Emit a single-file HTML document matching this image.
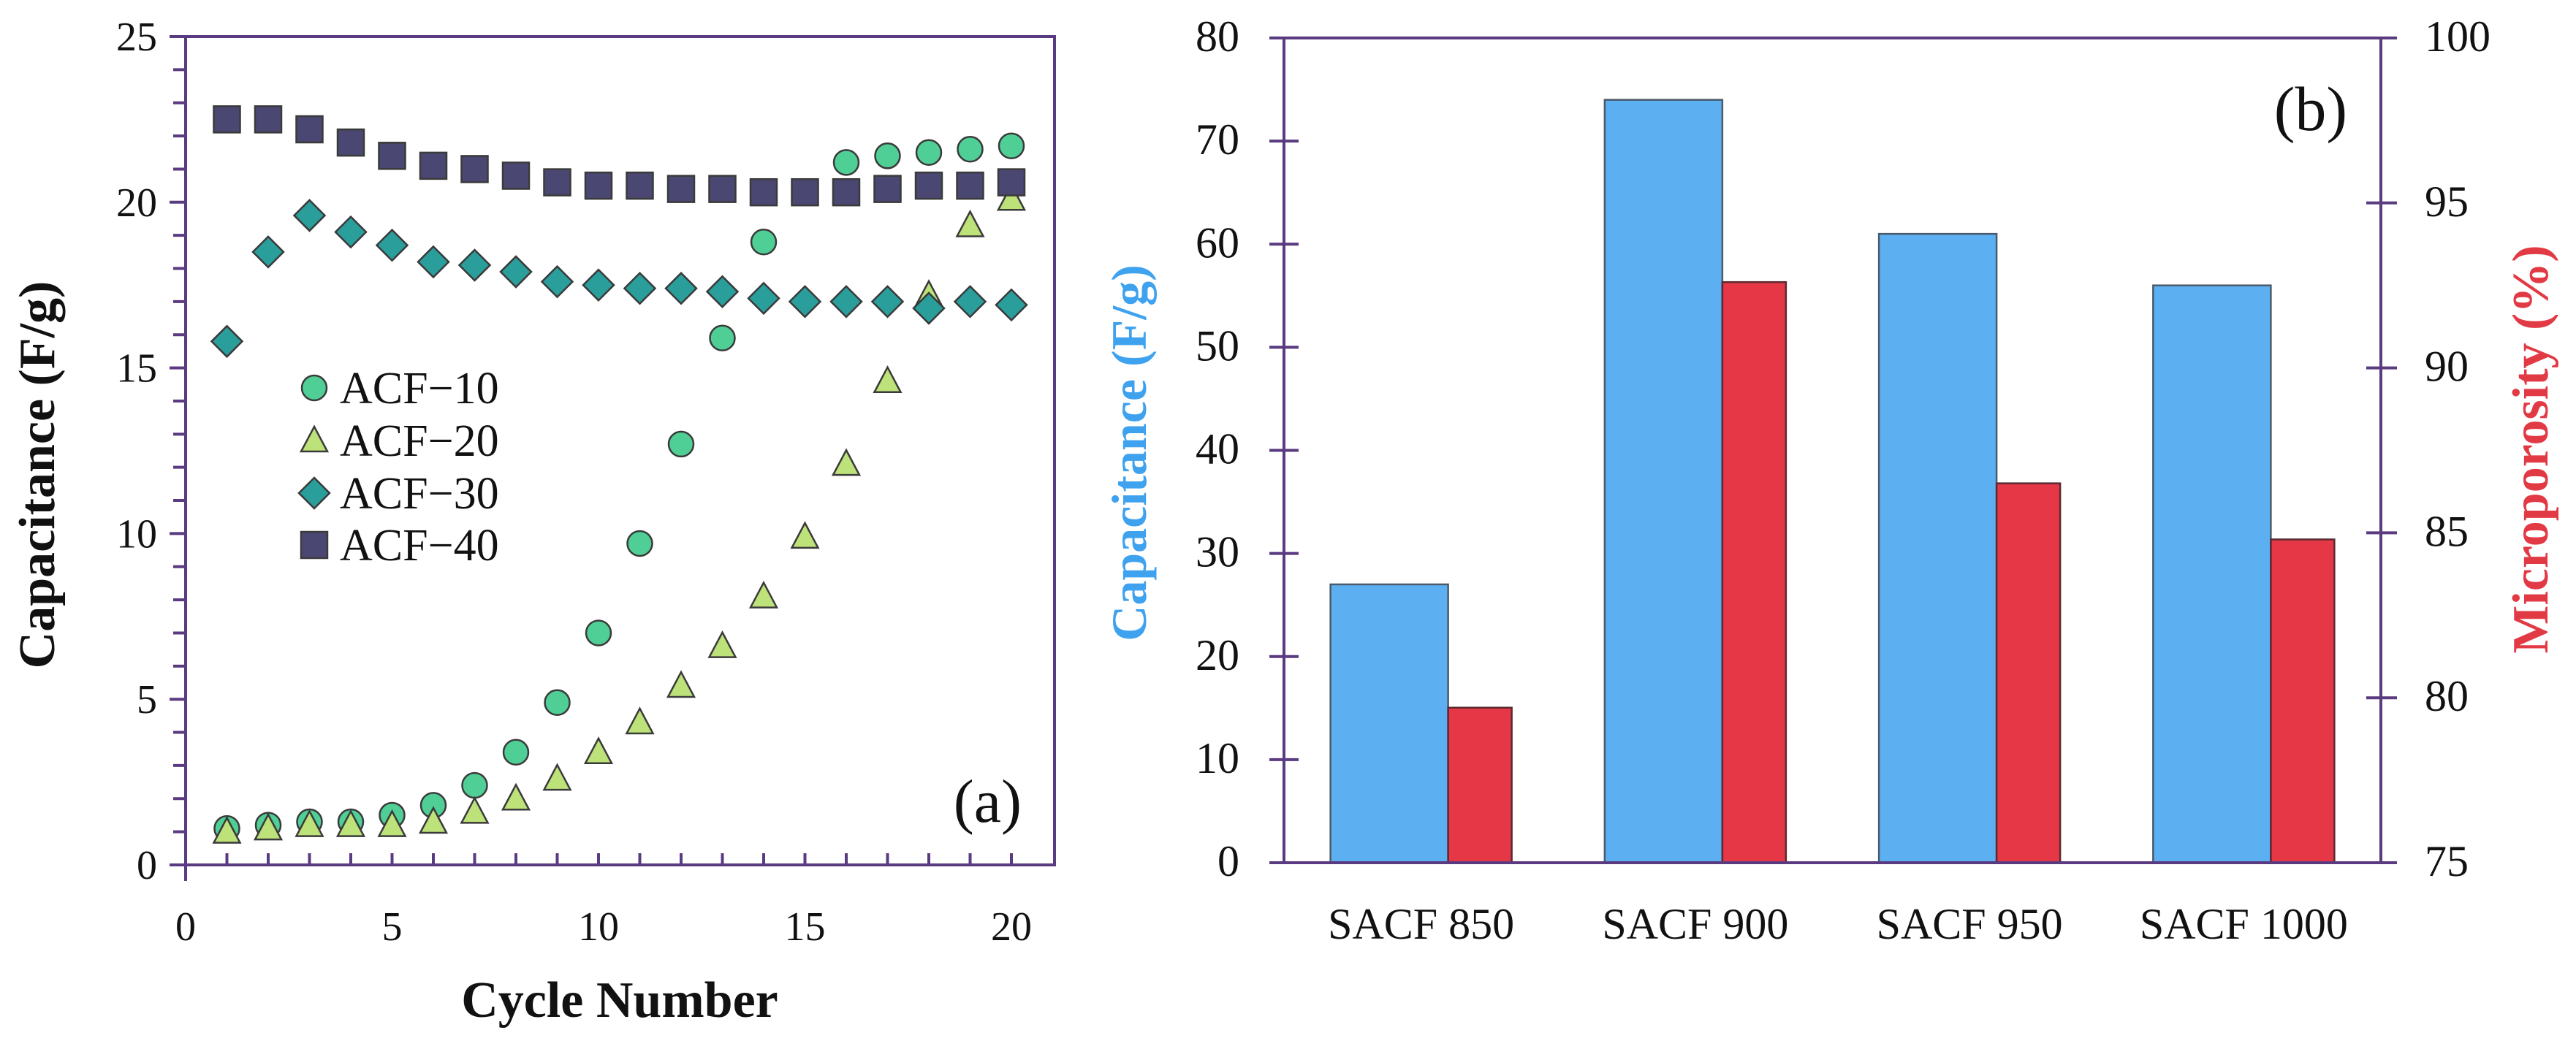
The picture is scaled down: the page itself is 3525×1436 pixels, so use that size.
<!DOCTYPE html>
<html><head><meta charset="utf-8">
<style>
html,body{margin:0;padding:0;background:#fff;}
svg{display:block;}
text{font-family:"Liberation Serif",serif;}
</style></head>
<body>
<svg id="fig" width="3525" height="1436" viewBox="0 0 3525 1436" xmlns="http://www.w3.org/2000/svg">
  <g id="chartA"></g>
  <g id="chartB"></g>
</svg>
<script>
// ---------- Chart (a) data ----------
const cycles = [1,2,3,4,5,6,7,8,9,10,11,12,13,14,15,16,17,18,19,20];
const acf10 = [1.1,1.2,1.3,1.3,1.5,1.8,2.4,3.4,4.9,7.0,9.7,12.7,15.9,18.8,20.3,21.2,21.4,21.5,21.6,21.7];
const acf20 = [1.0,1.1,1.2,1.2,1.2,1.3,1.6,2.0,2.6,3.4,4.3,5.4,6.6,8.1,9.9,12.1,14.6,17.2,19.3,20.1];
const acf30 = [15.8,18.5,19.6,19.1,18.7,18.2,18.1,17.9,17.6,17.5,17.4,17.4,17.3,17.1,17.0,17.0,17.0,16.8,17.0,16.9];
const acf40 = [22.5,22.5,22.2,21.8,21.4,21.1,21.0,20.8,20.6,20.5,20.5,20.4,20.4,20.3,20.3,20.3,20.4,20.5,20.5,20.6];
const xTicksA = [0,5,10,15,20];
const yTicksA = [0,5,10,15,20,25];
const legendLabels = ["ACF\u221210","ACF\u221220","ACF\u221230","ACF\u221240"];

// ---------- Chart (b) data ----------
const samples = ["SACF 850","SACF 900","SACF 950","SACF 1000"];
const capacitance = [27,74,61,56];
const microporosity = [79.7,92.6,86.5,84.8];
const yTicksLeftB = [0,10,20,30,40,50,60,70,80];
const yTicksRightB = [75,80,85,90,95,100];

const NS = "http://www.w3.org/2000/svg";
const AX = "#5a3a80";
function mk(parent, tag, attrs, txt){
  const e = document.createElementNS(NS, tag);
  for (const k in attrs) e.setAttribute(k, attrs[k]);
  if (txt !== undefined) e.textContent = txt;
  parent.appendChild(e);
  return e;
}

// ===== Chart A =====
const A = document.getElementById("chartA");
const aL=254, aR=1443, aT=50, aB=1184;
const ax = v => aL + v*56.5;
const ay = v => aB - v*(aB-aT)/25;

for (let i=0;i<=25;i++){
  const major = i%5===0;
  const t = mk(A,"line",{x1:aL-(major?22:17),x2:aL,y1:ay(i),y2:ay(i),stroke:AX,"stroke-width":4});
  
  
}
for (let i=0;i<=20;i++){
  const t = mk(A,"line",{x1:ax(i),x2:ax(i),y1:aB-16,y2:aB+(i===0?22:0),stroke:AX,"stroke-width":4});
  
  
}
const frameA = mk(A,"rect",{x:aL,y:aT,width:aR-aL,height:aB-aT,fill:"none",stroke:AX,"stroke-width":4});



yTicksA.forEach(v=>{
  const t = mk(A,"text",{x:215,y:ay(v)+19,"font-size":56,"text-anchor":"end",fill:"#111"},String(v));
  
  
});
xTicksA.forEach(v=>{
  const t = mk(A,"text",{x:ax(v),y:1287,"font-size":56,"text-anchor":"middle",fill:"#111"},String(v));
  
  
});
const yt = mk(A,"text",{x:0,y:0,"font-size":70,"font-weight":"bold","text-anchor":"middle",fill:"#111",transform:"translate(74,650) rotate(-90)"},"Capacitance (F/g)");


const xt = mk(A,"text",{x:848,y:1392,"font-size":70,"font-weight":"bold","text-anchor":"middle",fill:"#111"},"Cycle Number");


const la = mk(A,"text",{x:1398,y:1125,"font-size":84,"text-anchor":"end",fill:"#111"},"(a)");



const STK = "#3a3a3a";
function marker(g, type, cx, cy){
  let e;
  if (type===0) e = mk(g,"circle",{cx:cx,cy:cy,r:17,fill:"#4fcf95",stroke:STK,"stroke-width":2.5});
  else if (type===1) e = mk(g,"polygon",{points:`${cx},${cy-19} ${cx+18},${cy+15} ${cx-18},${cy+15}`,fill:"#bde27a",stroke:STK,"stroke-width":2.5});
  else if (type===2) e = mk(g,"polygon",{points:`${cx},${cy-21} ${cx+21},${cy} ${cx},${cy+21} ${cx-21},${cy}`,fill:"#2a9e9b",stroke:STK,"stroke-width":2.5});
  else e = mk(g,"rect",{x:cx-18,y:cy-18,width:36,height:36,fill:"#4a4872",stroke:STK,"stroke-width":2.5});
  return e;
}
const seriesA = [acf10, acf20, acf30, acf40];
const seriesNames = ["acf-10","acf-20","acf-30","acf-40"];
seriesA.forEach((s,si)=>{
  const g = mk(A,"g",{});
  
  
  s.forEach((v,i)=>{
    const m = marker(g, si, ax(cycles[i]), ay(v));
    
    
  });
});
const legY = [531,603,675,746];
legendLabels.forEach((lab,i)=>{
  const g = mk(A,"g",{});
  
  
  marker(g, i, 430, legY[i]);
  mk(g,"text",{x:465,y:legY[i]+21,"font-size":62,fill:"#111"},lab);
});

// ===== Chart B =====
const B = document.getElementById("chartB");
const bL=1757, bR=3258, bT=52, bB=1181;
const byL = v => bB - v*(bB-bT)/80;
const byR = v => bB - (v-75)*(bB-bT)/25;
const gw = (bR-bL)/samples.length;
const bx = i => bL + gw*(i+0.5);

samples.forEach((s,i)=>{
  const c = bx(i);
  const b1 = mk(B,"rect",{x:c-124,y:byL(capacitance[i]),width:161,height:bB-byL(capacitance[i]),fill:"#5cb0f2",stroke:"#4a5a6a","stroke-width":2.5});
  
  
  const b2 = mk(B,"rect",{x:c+37,y:byR(microporosity[i]),width:87,height:bB-byR(microporosity[i]),fill:"#e53746",stroke:"#5a2a30","stroke-width":2.5});
  
  
  const t = mk(B,"text",{x:c,y:1285,"font-size":60,"text-anchor":"middle",fill:"#111"},s);
  
  
});
const frameB = mk(B,"path",{d:`M${bL},${bB} L${bL},${bT} L${bR},${bT} L${bR},${bB} M${bL-20},${bB} L${bR+22},${bB}`,fill:"none",stroke:AX,"stroke-width":4});


yTicksLeftB.forEach(v=>{
  const t = mk(B,"line",{x1:bL-20,x2:bL+20,y1:byL(v),y2:byL(v),stroke:AX,"stroke-width":4});
  
  
  const l = mk(B,"text",{x:1696,y:byL(v)+18,"font-size":60,"text-anchor":"end",fill:"#111"},String(v));
  
  
});
yTicksRightB.forEach(v=>{
  const t = mk(B,"line",{x1:bR-20,x2:bR+22,y1:byR(v),y2:byR(v),stroke:AX,"stroke-width":4});
  
  
  const l = mk(B,"text",{x:3318,y:byR(v)+18,"font-size":60,"text-anchor":"start",fill:"#111"},String(v));
  
  
});
const ytl = mk(B,"text",{x:0,y:0,"font-size":68,"font-weight":"bold","text-anchor":"middle",fill:"#3fa2ef",transform:"translate(1568,620) rotate(-90)"},"Capacitance (F/g)");


const ytr = mk(B,"text",{x:0,y:0,"font-size":70,"font-weight":"bold","text-anchor":"middle",fill:"#e23a45",transform:"translate(3486,615) rotate(-90)"},"Microporosity (%)");


const lb = mk(B,"text",{x:3212,y:178,"font-size":86,"text-anchor":"end",fill:"#111"},"(b)");


</script>
</body></html>
